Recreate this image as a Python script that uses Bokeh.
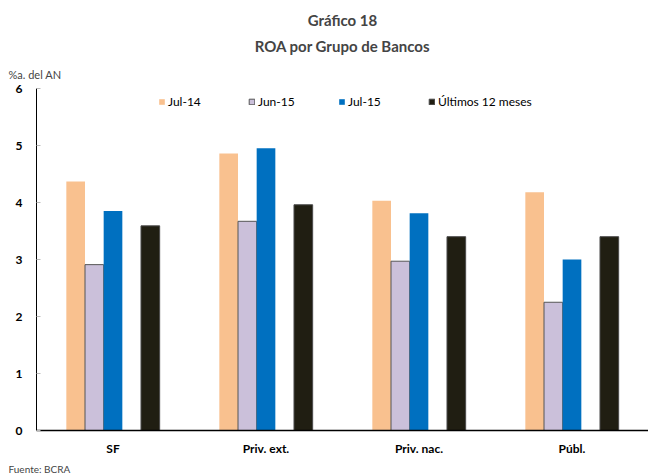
from bokeh.plotting import figure
from bokeh.models import Range1d, Legend, LegendItem, FixedTicker, ColumnDataSource, Title
from bokeh.embed import file_html
from bokeh.resources import INLINE

categories = ["SF", "Priv. ext.", "Priv. nac.", "Públ."]
series_names = ["Jul-14", "Jun-15", "Jul-15", "Últimos 12 meses"]
jul14 = [4.37, 4.86, 4.03, 4.18]
jun15 = [2.91, 3.67, 2.97, 2.25]
jul15 = [3.85, 4.95, 3.81, 3.00]
ult12 = [3.59, 3.96, 3.40, 3.40]
y_ticks = [0, 1, 2, 3, 4, 5, 6]

FONT = "Lato"
colors = ["#F9C18F", "#CBC0DA", "#0070C0", "#201E12"]
outlines = [None, "#555555", None, "#4a4a4a"]
slots = [-2, -1, 0, 2]
bw = 0.122

p = figure(width=648, height=476, output_backend="svg", toolbar_location=None,
           x_range=Range1d(0, 4), y_range=Range1d(0, 6), title=None,
           min_border_left=36, min_border_right=0, min_border_top=88, min_border_bottom=42)

renderers = []
for name, vals, c, oc, s in zip(series_names, [jul14, jun15, jul15, ult12], colors, outlines, slots):
    src = ColumnDataSource(dict(x=[i + 0.5 + s * bw for i in range(len(categories))], top=vals))
    r = p.vbar(x="x", top="top", width=bw, bottom=0, source=src, fill_color=c,
               line_color=oc, line_width=1)
    renderers.append(r)

p.xgrid.visible = False
p.ygrid.visible = False
p.outline_line_color = None

p.xaxis.ticker = FixedTicker(ticks=[i + 0.5 for i in range(len(categories))])
p.xaxis.major_label_overrides = {i + 0.5: c for i, c in enumerate(categories)}
p.xaxis.major_tick_out = 0
p.xaxis.major_tick_in = 0
p.xaxis.major_tick_line_color = None
p.xaxis.minor_tick_line_color = None
p.xaxis.axis_line_color = "black"
p.xaxis.axis_line_width = 1.5
p.xaxis.major_label_standoff = 10
p.xaxis.major_label_text_font = FONT
p.xaxis.major_label_text_font_style = "bold"
p.xaxis.major_label_text_font_size = "12px"
p.xaxis.major_label_text_color = "black"

p.yaxis.ticker = FixedTicker(ticks=y_ticks)
p.yaxis.major_tick_in = 4
p.yaxis.major_tick_out = 0
p.yaxis.major_tick_line_color = "#bbbbbb"
p.yaxis.minor_tick_line_color = None
p.yaxis.axis_line_color = "black"
p.yaxis.major_label_standoff = 14
p.yaxis.major_label_text_font = FONT
p.yaxis.major_label_text_font_style = "bold"
p.yaxis.major_label_text_font_size = "12px"
p.yaxis.major_label_text_color = "black"

legend = Legend(items=[LegendItem(label=n, renderers=[r]) for n, r in zip(series_names, renderers)],
                orientation="horizontal", location=(122, 321), label_width=80, label_height=14,
                spacing=0, glyph_width=7, glyph_height=7, label_standoff=3, padding=0, margin=0,
                border_line_color=None, background_fill_alpha=0,
                label_text_font_size="12px", label_text_font=FONT, label_text_color="black")
p.add_layout(legend)

p.add_layout(Title(text="%a. del AN", align="left", offset=-28, standoff=16,
                   text_font=FONT, text_font_size="11px", text_font_style="normal"), "above")
p.add_layout(Title(text="ROA por Grupo de Bancos", align="center", offset=-9, standoff=6,
                   text_font=FONT, text_font_size="15px", text_font_style="bold"), "above")
p.add_layout(Title(text="Gráfico 18", align="center", offset=-9, standoff=6,
                   text_font=FONT, text_font_size="15px", text_font_style="bold"), "above")
p.add_layout(Title(text="Fuente: BCRA", align="left", offset=-28, standoff=4,
                   text_font=FONT, text_font_size="10px", text_font_style="normal"), "below")

open("out.html", "w").write(file_html(p, INLINE))
